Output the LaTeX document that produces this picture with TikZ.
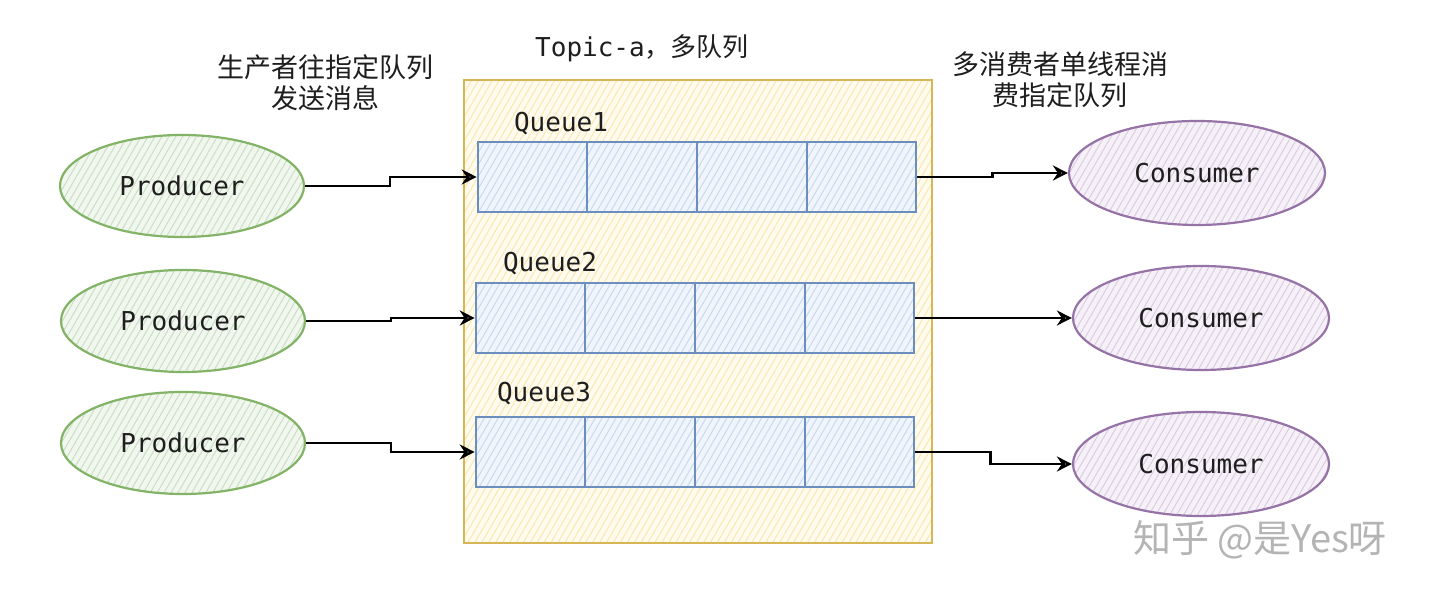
\documentclass[tikz,border=0pt]{standalone}
\usepackage{fontspec}
\newfontfamily\cjk{Noto Sans CJK SC}
\newfontfamily\mono{DejaVu Sans Mono}
\usetikzlibrary{shapes.geometric,patterns.meta,arrows.meta,calc}
\definecolor{pgreen}{HTML}{82B366}
\definecolor{pgreenfill}{HTML}{F1F7EF}
\definecolor{pgreenhatch}{HTML}{C9DFC3}
\definecolor{cpurple}{HTML}{9673A6}
\definecolor{cpurplefill}{HTML}{F6F1F8}
\definecolor{cpurplehatch}{HTML}{DACDE0}
\definecolor{qblue}{HTML}{6C8EBF}
\definecolor{qbluefill}{HTML}{F0F5FC}
\definecolor{qbluehatch}{HTML}{C8D9EF}
\definecolor{tyellow}{HTML}{D6B656}
\definecolor{tyellowfill}{HTML}{FFFBEE}
\definecolor{tyellowhatch}{HTML}{FBE7B0}
\definecolor{wmgray}{HTML}{B4B4B4}
\definecolor{txt}{HTML}{1E1E1E}
\tikzset{
  hatch/.style={pattern={Lines[angle=60,distance=3pt,line width=0.5pt]}},
  prodnode/.style={ellipse, draw=pgreen, line width=1.1pt, minimum width=122pt, minimum height=51pt,
    preaction={fill=pgreenfill}, hatch, pattern color=pgreenhatch, inner sep=0pt, text=txt,
    font=\mono\fontsize{13}{15}\selectfont},
  consnode/.style={ellipse, draw=cpurple, line width=1.1pt, minimum width=128pt, minimum height=52pt,
    preaction={fill=cpurplefill}, hatch, pattern color=cpurplehatch, inner sep=0pt, text=txt,
    font=\mono\fontsize{13}{15}\selectfont},
  queuenode/.style={rectangle, draw=qblue, line width=1.3pt, minimum width=219pt, minimum height=35pt,
    preaction={fill=qbluefill}, hatch, pattern color=qbluehatch, inner sep=0pt},
  topicbox/.style={rectangle, draw=tyellow, line width=1.1pt, minimum width=234pt, minimum height=231.5pt,
    preaction={fill=tyellowfill}, hatch, pattern color=tyellowhatch, inner sep=0pt},
  qdiv/.style={draw=qblue, line width=1.3pt},
  monolabel/.style={font=\mono\fontsize{13}{15}\selectfont, inner sep=0pt, text=txt},
  cjklabel/.style={font=\cjk\fontsize{13.5}{15.5}\selectfont, align=center, inner sep=0pt, text=txt},
  arr/.style={draw=black, line width=1.3pt, -{Stealth[open,length=7.5pt,width=7.5pt,inset=2.5pt]}},
}
\begin{document}
\begin{tikzpicture}[x=0.5pt,y=-0.5pt]
\useasboundingbox (0,0) rectangle (1440,597);
\fill[white] (0,0) rectangle (1440,597);

% topic box
\node[topicbox] (topic) at (698,311.5) {};
\node[font=\fontsize{13}{15}\selectfont, inner sep=0pt, text=txt] (topiclbl) at (642,48) {{\mono Topic-a}{\cjk ，多队列}};

% queues
\node[queuenode] (q1) at (697,177) {};
\node[queuenode] (q2) at (695,318) {};
\node[queuenode] (q3) at (695,452) {};
\foreach \q in {q1,q2,q3}{
  \foreach \i in {1,2,3}{
    \draw[qdiv] ($(\q.north west)!\i/4!(\q.north east)$) -- ($(\q.south west)!\i/4!(\q.south east)$);
  }
}
\node[monolabel] (l1) at (561,124) {Queue1};
\node[monolabel] (l2) at (550,264) {Queue2};
\node[monolabel] (l3) at (544,394) {Queue3};

% producers
\node[prodnode] (p1) at (182,186) {Producer};
\node[prodnode] (p2) at (183,321) {Producer};
\node[prodnode] (p3) at (183,443) {Producer};

% consumers
\node[consnode] (c1) at (1197,173) {Consumer};
\node[consnode] (c2) at (1201,318) {Consumer};
\node[consnode] (c3) at (1201,464) {Consumer};

% labels
\node[cjklabel] (plbl) at (325,83) {生产者往指定队列\\发送消息};
\node[cjklabel] (clbl) at (1060,80) {多消费者单线程消\\费指定队列};

% arrows
\draw[arr] (p1.east) -- ++(85,0) |- (q1.west);
\draw[arr] (p2.east) -- ++(85,0) |- (q2.west);
\draw[arr] (p3.east) -- ++(85,0) |- (q3.west);
\draw[arr] (q1.east) -- ++(75,0) |- (c1.west);
\draw[arr] (q2.east) -- ++(75,0) |- (c2.west);
\draw[arr] (q3.east) -- ++(75,0) |- (c3.west);

% watermark
\node[font=\cjk\fontsize{19}{21}\selectfont, text=wmgray, inner sep=0pt] (wm) at (1260,540) {知乎 @是Yes呀};
\end{tikzpicture}
\end{document}
